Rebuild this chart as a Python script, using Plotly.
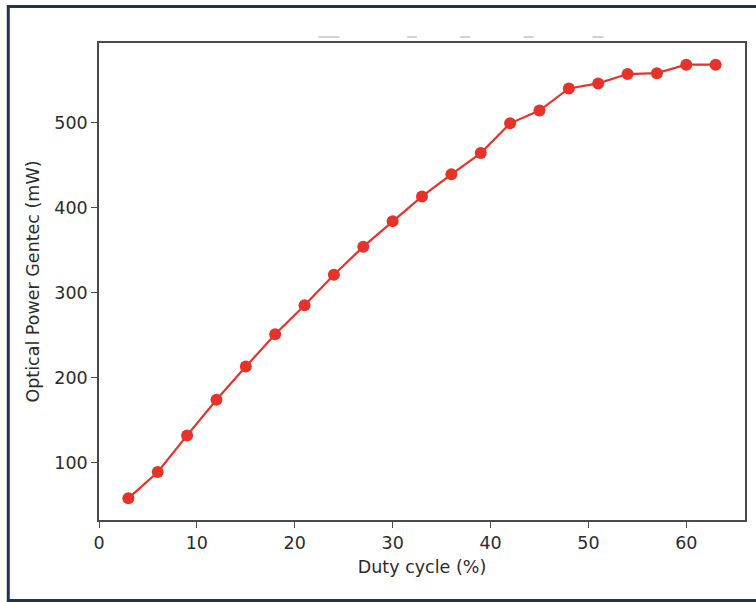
import plotly.graph_objects as go

duty_cycle = [3, 6, 9, 12, 15, 18, 21, 24, 27, 30, 33, 36, 39, 42, 45, 48, 51, 54, 57, 60, 63]
optical_power = [58, 89, 132, 174, 213, 251, 285, 321, 354, 384, 413, 439, 464, 499, 514, 540, 546, 557, 558, 568, 568]
x_ticks = [0, 10, 20, 30, 40, 50, 60]
y_ticks = [100, 200, 300, 400, 500]

W, H = 756, 602
L, R, T, B = 99, 747, 43, 520

def px(x):
    return (x - L) / (R - L)

def py(y):
    return (B - y) / (B - T)

fig = go.Figure()
fig.add_trace(go.Scatter(
    x=duty_cycle, y=optical_power, mode="lines+markers",
    line=dict(color="#e63329", width=2.2),
    marker=dict(color="#e63329", size=12),
    showlegend=False,
))

FONT = "DejaVu Sans"
axis_common = dict(
    showline=True, mirror=True, linecolor="#4a4a4a", linewidth=1.6,
    showgrid=False, zeroline=False, ticks="outside", ticklen=6, tickwidth=1.4,
    tickcolor="#4a4a4a",
    tickfont=dict(family=FONT, size=17.5, color="#2b2b2b"),
)

fig.update_xaxes(range=[0, 66], tickvals=x_ticks,
                 title=dict(text="Duty cycle (%)", font=dict(family=FONT, size=17.5, color="#2b2b2b"), standoff=9),
                 **axis_common)
fig.update_yaxes(range=[32.5, 593.5], tickvals=y_ticks,
                 title=dict(text="Optical Power Gentec (mW)", font=dict(family=FONT, size=17.5, color="#2b2b2b"), standoff=10),
                 **axis_common)

shapes = []
# outer navy frame (left, top, bottom edges visible)
shapes.append(dict(type="rect", xref="paper", yref="paper",
                   x0=px(8), x1=px(762), y0=py(600.5), y1=py(6.5),
                   line=dict(color="#1d3452", width=3), layer="below"))
# faint cropped remnants above plot
for a, b in [(319, 340), (408, 418), (461, 471), (525, 535), (594, 605)]:
    shapes.append(dict(type="line", xref="paper", yref="paper",
                       x0=px(a), x1=px(b), y0=py(37), y1=py(37),
                       line=dict(color="#c4c4c4", width=1.5)))

fig.update_layout(
    width=W, height=H,
    margin=dict(l=L, r=W - R, t=T, b=H - B, pad=0),
    paper_bgcolor="white", plot_bgcolor="white",
    shapes=shapes,
)

fig.write_html("out.html", config={"displayModeBar": False},
               post_script="document.body.style.margin='0';document.body.style.overflow='hidden';")
